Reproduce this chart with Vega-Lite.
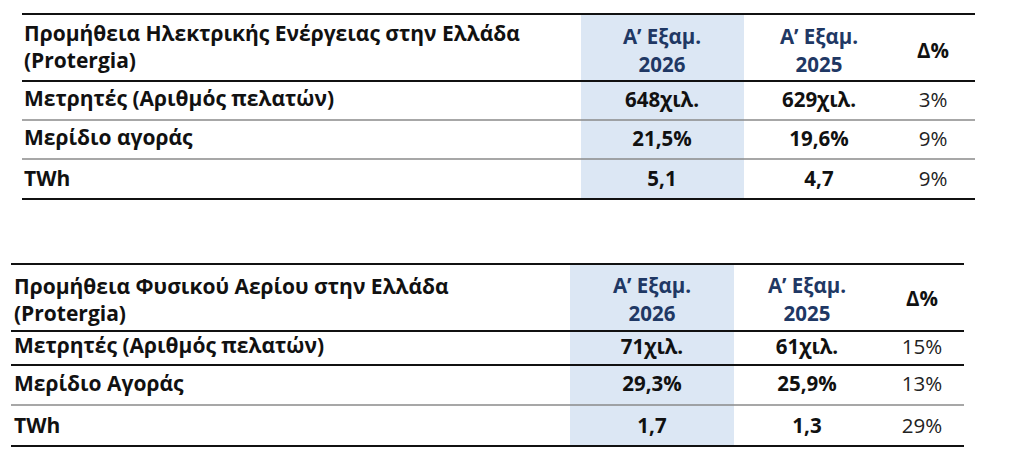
{
  "$schema": "https://vega.github.io/schema/vega-lite/v6.json",
  "width": 1024,
  "height": 468,
  "autosize": {"type": "fit", "contains": "padding"},
  "padding": 0,
  "background": "white",
  "config": {"view": {"stroke": null}},
  "datasets": {
    "shade": [
      {"table": "Ηλεκτρική Ενέργεια", "from": 1, "to": 2, "top": 0, "bottom": 4},
      {"table": "Φυσικό Αέριο", "from": 5, "to": 6, "top": 5, "bottom": 9}
    ],
    "rules": [
      {"table": "Ηλεκτρική Ενέργεια", "line": 0, "from": 0, "to": 3, "kind": "border"},
      {"table": "Ηλεκτρική Ενέργεια", "line": 1, "from": 0, "to": 3, "kind": "border"},
      {"table": "Ηλεκτρική Ενέργεια", "line": 2, "from": 0, "to": 3, "kind": "separator"},
      {"table": "Ηλεκτρική Ενέργεια", "line": 3, "from": 0, "to": 3, "kind": "separator"},
      {"table": "Ηλεκτρική Ενέργεια", "line": 4, "from": 0, "to": 3, "kind": "border"},
      {"table": "Φυσικό Αέριο", "line": 5, "from": 4, "to": 7, "kind": "border"},
      {"table": "Φυσικό Αέριο", "line": 6, "from": 4, "to": 7, "kind": "border"},
      {"table": "Φυσικό Αέριο", "line": 7, "from": 4, "to": 7, "kind": "border"},
      {"table": "Φυσικό Αέριο", "line": 8, "from": 4, "to": 7, "kind": "separator"},
      {"table": "Φυσικό Αέριο", "line": 9, "from": 4, "to": 7, "kind": "border"}
    ],
    "cells": [
      {"table": "Ηλεκτρική Ενέργεια", "row": 0, "col": 0, "role": "label", "text": "Προμήθεια Ηλεκτρικής Ενέργειας στην Ελλάδα\n(Protergia)"},
      {"table": "Ηλεκτρική Ενέργεια", "row": 0, "col": 1, "role": "period", "text": "Α’ Εξαμ.\n2026"},
      {"table": "Ηλεκτρική Ενέργεια", "row": 0, "col": 2, "role": "period", "text": "Α’ Εξαμ.\n2025"},
      {"table": "Ηλεκτρική Ενέργεια", "row": 0, "col": 3, "role": "deltahead", "text": "Δ%"},
      {"table": "Ηλεκτρική Ενέργεια", "row": 1, "col": 0, "role": "label", "text": "Μετρητές (Αριθμός πελατών)"},
      {"table": "Ηλεκτρική Ενέργεια", "row": 1, "col": 1, "role": "value", "text": "648χιλ."},
      {"table": "Ηλεκτρική Ενέργεια", "row": 1, "col": 2, "role": "value", "text": "629χιλ."},
      {"table": "Ηλεκτρική Ενέργεια", "row": 1, "col": 3, "role": "change", "text": "3%"},
      {"table": "Ηλεκτρική Ενέργεια", "row": 2, "col": 0, "role": "label", "text": "Μερίδιο αγοράς"},
      {"table": "Ηλεκτρική Ενέργεια", "row": 2, "col": 1, "role": "value", "text": "21,5%"},
      {"table": "Ηλεκτρική Ενέργεια", "row": 2, "col": 2, "role": "value", "text": "19,6%"},
      {"table": "Ηλεκτρική Ενέργεια", "row": 2, "col": 3, "role": "change", "text": "9%"},
      {"table": "Ηλεκτρική Ενέργεια", "row": 3, "col": 0, "role": "label", "text": "TWh"},
      {"table": "Ηλεκτρική Ενέργεια", "row": 3, "col": 1, "role": "value", "text": "5,1"},
      {"table": "Ηλεκτρική Ενέργεια", "row": 3, "col": 2, "role": "value", "text": "4,7"},
      {"table": "Ηλεκτρική Ενέργεια", "row": 3, "col": 3, "role": "change", "text": "9%"},
      {"table": "Φυσικό Αέριο", "row": 4, "col": 4, "role": "label", "text": "Προμήθεια Φυσικού Αερίου στην Ελλάδα\n(Protergia)"},
      {"table": "Φυσικό Αέριο", "row": 4, "col": 5, "role": "period", "text": "Α’ Εξαμ.\n2026"},
      {"table": "Φυσικό Αέριο", "row": 4, "col": 6, "role": "period", "text": "Α’ Εξαμ.\n2025"},
      {"table": "Φυσικό Αέριο", "row": 4, "col": 7, "role": "deltahead", "text": "Δ%"},
      {"table": "Φυσικό Αέριο", "row": 5, "col": 4, "role": "label", "text": "Μετρητές (Αριθμός πελατών)"},
      {"table": "Φυσικό Αέριο", "row": 5, "col": 5, "role": "value", "text": "71χιλ."},
      {"table": "Φυσικό Αέριο", "row": 5, "col": 6, "role": "value", "text": "61χιλ."},
      {"table": "Φυσικό Αέριο", "row": 5, "col": 7, "role": "change", "text": "15%"},
      {"table": "Φυσικό Αέριο", "row": 6, "col": 4, "role": "label", "text": "Μερίδιο Αγοράς"},
      {"table": "Φυσικό Αέριο", "row": 6, "col": 5, "role": "value", "text": "29,3%"},
      {"table": "Φυσικό Αέριο", "row": 6, "col": 6, "role": "value", "text": "25,9%"},
      {"table": "Φυσικό Αέριο", "row": 6, "col": 7, "role": "change", "text": "13%"},
      {"table": "Φυσικό Αέριο", "row": 7, "col": 4, "role": "label", "text": "TWh"},
      {"table": "Φυσικό Αέριο", "row": 7, "col": 5, "role": "value", "text": "1,7"},
      {"table": "Φυσικό Αέριο", "row": 7, "col": 6, "role": "value", "text": "1,3"},
      {"table": "Φυσικό Αέριο", "row": 7, "col": 7, "role": "change", "text": "29%"}
    ]
  },
  "resolve": {"scale": {"x": "independent", "y": "independent", "color": "independent", "strokeWidth": "independent"}},
  "layer": [
    {
      "data": {"name": "shade"},
      "mark": {"type": "rect", "color": "#dce7f4"},
      "encoding": {
        "x": {"field": "from", "type": "quantitative", "axis": null, "scale": {"domain": [0, 1, 2, 3, 4, 5, 6, 7], "range": [22, 581, 744, 975, 11, 570, 734, 964], "nice": false, "zero": false}},
        "x2": {"field": "to"},
        "y": {"field": "top", "type": "quantitative", "axis": null, "scale": {"domain": [0, 1, 2, 3, 4, 5, 6, 7, 8, 9], "range": [14, 81, 120, 159, 199, 264, 331, 365, 405, 446], "nice": false, "zero": false}},
        "y2": {"field": "bottom"}
      }
    },
    {
      "data": {"name": "rules"},
      "mark": {"type": "rule"},
      "encoding": {
        "x": {"field": "from", "type": "quantitative", "axis": null, "scale": {"domain": [0, 1, 2, 3, 4, 5, 6, 7], "range": [22, 581, 744, 975, 11, 570, 734, 964], "nice": false, "zero": false}},
        "x2": {"field": "to"},
        "y": {"field": "line", "type": "quantitative", "axis": null, "scale": {"domain": [0, 1, 2, 3, 4, 5, 6, 7, 8, 9], "range": [14, 81, 120, 159, 199, 264, 331, 365, 405, 446], "nice": false, "zero": false}},
        "color": {"field": "kind", "type": "nominal", "legend": null, "scale": {"domain": ["border", "separator"], "range": ["#111111", "#8a8a8a"]}},
        "strokeWidth": {"field": "kind", "type": "nominal", "legend": null, "scale": {"domain": ["border", "separator"], "range": [2, 1.5]}}
      }
    },
    {
      "data": {"name": "cells"},
      "transform": [{"filter": "datum.role === 'label'"}],
      "mark": {"type": "text", "align": "left", "baseline": "middle", "font": "Open Sans", "fontSize": 21, "fontWeight": "bold", "color": "#111111", "lineBreak": "\n", "lineHeight": 27},
      "encoding": {
        "x": {"field": "col", "type": "quantitative", "axis": null, "scale": {"domain": [0, 1, 2, 3, 4, 5, 6, 7], "range": [24, 662, 819, 933, 14, 652, 807, 922], "nice": false, "zero": false}},
        "y": {"field": "row", "type": "quantitative", "axis": null, "scale": {"domain": [0, 1, 2, 3, 4, 5, 6, 7], "range": [35, 100, 139, 180, 288, 347, 385, 427], "nice": false, "zero": false}},
        "text": {"field": "text"}
      }
    },
    {
      "data": {"name": "cells"},
      "transform": [{"filter": "datum.role === 'period'"}],
      "mark": {"type": "text", "align": "center", "baseline": "middle", "font": "Open Sans", "fontSize": 20.5, "fontWeight": "bold", "color": "#1f3864", "lineBreak": "\n", "lineHeight": 28},
      "encoding": {
        "x": {"field": "col", "type": "quantitative", "axis": null, "scale": {"domain": [0, 1, 2, 3, 4, 5, 6, 7], "range": [24, 662, 819, 933, 14, 652, 807, 922], "nice": false, "zero": false}},
        "y": {"field": "row", "type": "quantitative", "axis": null, "scale": {"domain": [0, 1, 2, 3, 4, 5, 6, 7], "range": [38, 100, 139, 180, 287, 347, 385, 427], "nice": false, "zero": false}},
        "text": {"field": "text"}
      }
    },
    {
      "data": {"name": "cells"},
      "transform": [{"filter": "datum.role === 'deltahead' || datum.role === 'value'"}],
      "mark": {"type": "text", "align": "center", "baseline": "middle", "font": "Open Sans", "fontSize": 20.5, "fontWeight": "bold", "color": "#111111"},
      "encoding": {
        "x": {"field": "col", "type": "quantitative", "axis": null, "scale": {"domain": [0, 1, 2, 3, 4, 5, 6, 7], "range": [24, 662, 819, 933, 14, 652, 807, 922], "nice": false, "zero": false}},
        "y": {"field": "row", "type": "quantitative", "axis": null, "scale": {"domain": [0, 1, 2, 3, 4, 5, 6, 7], "range": [52, 101, 140, 180, 300, 348, 385, 427], "nice": false, "zero": false}},
        "text": {"field": "text"}
      }
    },
    {
      "data": {"name": "cells"},
      "transform": [{"filter": "datum.role === 'change'"}],
      "mark": {"type": "text", "align": "center", "baseline": "middle", "font": "Open Sans", "fontSize": 20.5, "fontWeight": "normal", "color": "#222222"},
      "encoding": {
        "x": {"field": "col", "type": "quantitative", "axis": null, "scale": {"domain": [0, 1, 2, 3, 4, 5, 6, 7], "range": [24, 662, 819, 933, 14, 652, 807, 922], "nice": false, "zero": false}},
        "y": {"field": "row", "type": "quantitative", "axis": null, "scale": {"domain": [0, 1, 2, 3, 4, 5, 6, 7], "range": [52, 101, 140, 180, 300, 348, 385, 427], "nice": false, "zero": false}},
        "text": {"field": "text"}
      }
    }
  ]
}
